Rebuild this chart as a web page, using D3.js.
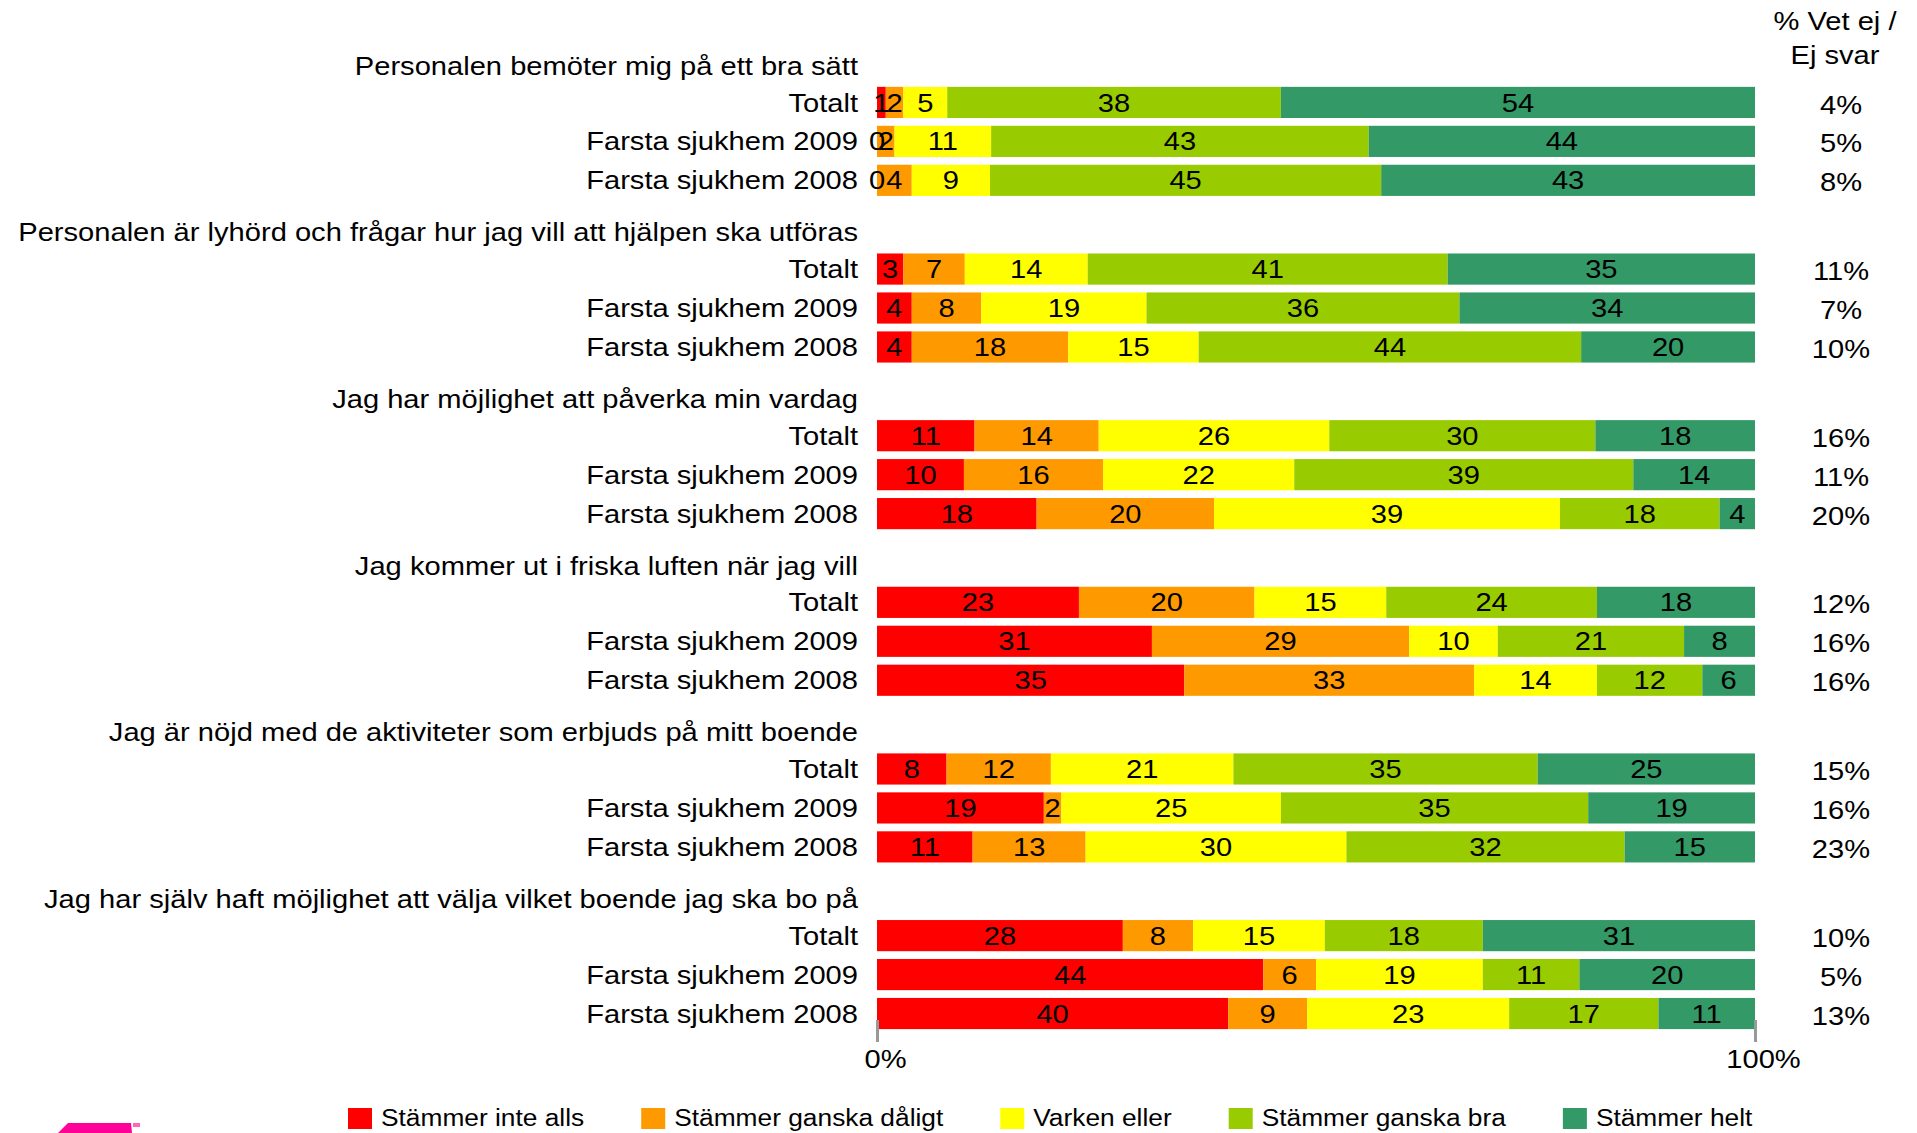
<!DOCTYPE html>
<html>
<head>
<meta charset="utf-8">
<script src="https://cdn.jsdelivr.net/npm/d3@7"></script>
<style>
  body { margin: 0; background: #fff; }
  svg text { font-family: "Liberation Sans", Arial, sans-serif; fill: #000; }
</style>
</head>
<body>
<div id="chart"></div>
<script>
// Data
const questions = [
  "Personalen bemöter mig på ett bra sätt",
  "Personalen är lyhörd och frågar hur jag vill att hjälpen ska utföras",
  "Jag har möjlighet att påverka min vardag",
  "Jag kommer ut i friska luften när jag vill",
  "Jag är nöjd med de aktiviteter som erbjuds på mitt boende",
  "Jag har själv haft möjlighet att välja vilket boende jag ska bo på"
];
const rowLabels = ["Totalt", "Farsta sjukhem 2009", "Farsta sjukhem 2008"];
const categories = ["Stämmer inte alls", "Stämmer ganska dåligt", "Varken eller", "Stämmer ganska bra", "Stämmer helt"];
const colors = ["#FF0000", "#FF9900", "#FFFF00", "#99CC00", "#339966"];

// one row per unit: Totalt, 2009, 2008
const bemoterValues = [[1, 2, 5, 38, 54], [0, 2, 11, 43, 44], [0, 4, 9, 45, 43]];
const lyhordValues = [[3, 7, 14, 41, 35], [4, 8, 19, 36, 34], [4, 18, 15, 44, 20]];
const paverkaValues = [[11, 14, 26, 30, 18], [10, 16, 22, 39, 14], [18, 20, 39, 18, 4]];
const luftenValues = [[23, 20, 15, 24, 18], [31, 29, 10, 21, 8], [35, 33, 14, 12, 6]];
const aktiviteterValues = [[8, 12, 21, 35, 25], [19, 2, 25, 35, 19], [11, 13, 30, 32, 15]];
const valjaValues = [[28, 8, 15, 18, 31], [44, 6, 19, 11, 20], [40, 9, 23, 17, 11]];
const allValues = [bemoterValues, lyhordValues, paverkaValues, luftenValues, aktiviteterValues, valjaValues];

const vetEj = [[4, 5, 8], [11, 7, 10], [16, 11, 20], [12, 16, 16], [15, 16, 23], [10, 5, 13]];
const tickValues = [0, 1];

(function () {
  const W = 1917, H = 1133;
  const sx = 1.12; // the picture's text is a little wide

  const svg = d3.select("#chart").append("svg")
    .attr("width", W).attr("height", H)
    .style("display", "block");
  svg.append("rect").attr("width", W).attr("height", H).attr("fill", "#fff");

  function addText(g, x, y, str, size, anchor) {
    return g.append("text")
      .attr("transform", `translate(${x},${y}) scale(${sx},1)`)
      .attr("dy", "0.35em")
      .attr("text-anchor", anchor)
      .style("font-size", size + "px")
      .text(str);
  }

  // table for the stack
  const data = [];
  questions.forEach((q, i) => {
    rowLabels.forEach((r, j) => {
      const o = { q: q, row: r, vetEj: vetEj[i][j] };
      categories.forEach((c, k) => { o[c] = allValues[i][j][k]; });
      data.push(o);
    });
  });

  const series = d3.stack().keys(categories).offset(d3.stackOffsetExpand)(data);

  // Scales
  const x = d3.scaleLinear().domain([0, 1]).range([877, 1755]);
  const yGroup = d3.scaleBand().domain(questions).range([44, 1033]).paddingInner(0.065);
  const yInner = d3.scaleBand().domain(["title"].concat(rowLabels))
    .range([0, yGroup.bandwidth()]).paddingInner(0.2).paddingOuter(0.1);
  const color = d3.scaleOrdinal().domain(categories).range(colors);
  const yRow = d => yGroup(d.q) + yInner(d.row);

  // Bars
  const layer = svg.selectAll(".layer")
    .data(series)
    .enter().append("g")
    .attr("class", "layer")
    .attr("fill", d => color(d.key));

  layer.selectAll("rect")
    .data(d => d)
    .enter().append("rect")
    .attr("x", d => x(d[0]))
    .attr("y", d => yRow(d.data))
    .attr("width", d => x(d[1]) - x(d[0]))
    .attr("height", yInner.bandwidth());

  // value labels
  const labels = svg.append("g");
  series.forEach(s => {
    s.forEach(d => {
      addText(labels, (x(d[0]) + x(d[1])) / 2, yRow(d.data) + yInner.bandwidth() / 2,
        d.data[s.key], 26, "middle");
    });
  });

  // question titles and row labels
  const left = svg.append("g");
  questions.forEach(q => {
    addText(left, 858, yGroup(q) + yInner("title") + yInner.bandwidth() / 2 + 2, q, 26, "end");
  });
  data.forEach(d => {
    addText(left, 858, yRow(d) + yInner.bandwidth() / 2, d.row, 26, "end");
  });

  // Vet ej column
  const right = svg.append("g");
  right.append("text")
    .attr("transform", `translate(1835,30) scale(${sx},1)`)
    .attr("text-anchor", "middle").style("font-size", "26px")
    .text("% Vet ej /");
  right.append("text")
    .attr("transform", `translate(1835,64) scale(${sx},1)`)
    .attr("text-anchor", "middle").style("font-size", "26px")
    .text("Ej svar");
  data.forEach(d => {
    addText(right, 1841, yRow(d) + yInner.bandwidth() / 2 + 2, d.vetEj + "%", 26, "middle");
  });

  // Axis
  const axis = svg.append("g")
    .attr("transform", "translate(0,1020)")
    .call(d3.axisBottom(x).tickValues(tickValues).tickFormat(d3.format(".0%"))
      .tickSize(22).tickPadding(8));
  axis.select(".domain").remove();
  axis.selectAll(".tick line").attr("stroke", "#999").attr("stroke-width", 3);
  axis.selectAll(".tick text")
    .attr("fill", "#000")
    .style("font-family", "'Liberation Sans', Arial, sans-serif")
    .style("font-size", "26px")
    .attr("transform", `translate(8,0) scale(${sx},1)`);

  // Legend
  const legend = svg.append("g").attr("transform", "translate(348,1108)");
  let lx = 0;
  categories.forEach(c => {
    const item = legend.append("g").attr("transform", `translate(${lx},0)`);
    item.append("rect").attr("width", 24).attr("height", 21).attr("fill", color(c));
    const t = item.append("text")
      .attr("transform", `translate(33,10) scale(${sx},1)`)
      .attr("dy", "0.35em")
      .style("font-size", "23.5px")
      .text(c);
    lx += 33 + t.node().getComputedTextLength() * sx + 57;
  });

  // cut-off logo at the bottom left
  svg.append("path")
    .attr("d", "M58,1133 L68,1123 L131,1123 L132,1133 Z")
    .attr("fill", "#FF0099");
  svg.append("rect").attr("x", 133).attr("y", 1123).attr("width", 7).attr("height", 4)
    .attr("fill", "#FF66BB");
})();
</script>
</body>
</html>
